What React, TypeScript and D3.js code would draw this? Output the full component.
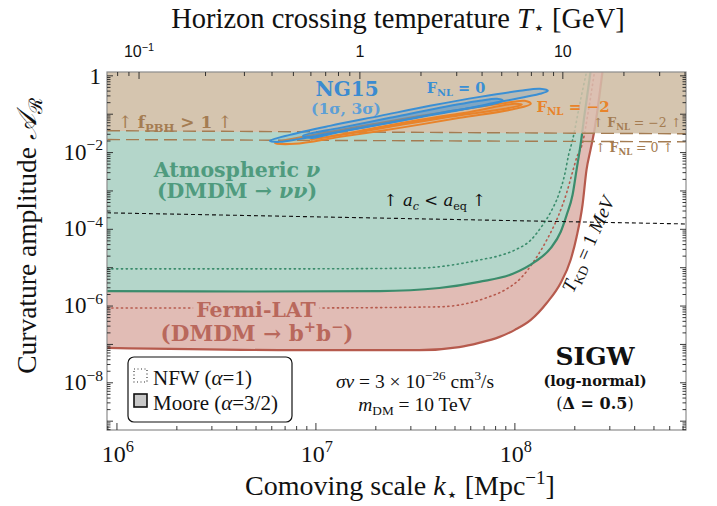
import { useEffect, useRef } from 'react';
import * as d3 from 'd3';

const W = 717;
const H = 506;

// axis limits, log10
const kLim = [5.95, 8.86];
const aLim = [-9.23, 0.1];

// top axis: temperature ticks [GeV] and their comoving scale (log10 k)
const tempMajor = [0.1, 1, 10];
const tempMajorLogK = [6.111, 7.221, 8.241];
const tempLabels = ['10^-1', '1', '10'];
const tempMinor = [0.08, 0.09, 0.2, 0.3, 0.4, 0.5, 0.6, 0.7, 0.8, 0.9, 2, 3, 4, 5, 6, 7, 8, 9, 20, 30, 40];

const yLabelled = [0, -2, -4, -6, -8];
const kLabelled = [6, 7, 8];

// Atmospheric nu (DMDM -> nu nu), Moore profile (solid) / NFW (dotted)
const atmoMooreLogK = [5.95, 6.67, 7.32, 7.62, 7.82, 7.99, 8.1, 8.18, 8.23, 8.26, 8.29, 8.31, 8.33, 8.35, 8.38];
const atmoMooreLogA = [-5.61, -5.62, -5.61, -5.53, -5.37, -5.16, -4.85, -4.49, -4.07, -3.63, -3.1, -2.45, -1.8, -1.02, 0.1];
const atmoNfwLogK = [5.95, 6.92, 7.52, 7.72, 7.82, 7.92, 8.0, 8.08, 8.13, 8.18, 8.22, 8.25, 8.27, 8.29, 8.33, 8.36];
const atmoNfwLogA = [-5.03, -5.03, -5.01, -4.9, -4.8, -4.69, -4.54, -4.28, -3.96, -3.55, -3.1, -2.58, -2.06, -1.67, -0.63, 0.1];

// Fermi-LAT (DMDM -> b+ b-)
const fermiMooreLogK = [5.95, 6.92, 7.52, 7.72, 7.82, 7.92, 8.0, 8.08, 8.16, 8.23, 8.28, 8.31, 8.34, 8.36, 8.38, 8.4, 8.44];
const fermiMooreLogA = [-7.09, -7.15, -7.15, -7.07, -6.96, -6.81, -6.62, -6.36, -5.92, -5.4, -4.8, -4.2, -3.36, -2.45, -1.93, -1.41, 0.1];
const fermiNfwLogK = [5.95, 6.92, 7.62, 7.77, 7.87, 7.95, 8.03, 8.1, 8.16, 8.22, 8.26, 8.29, 8.31, 8.34, 8.37, 8.4];
const fermiNfwLogA = [-6.05, -6.05, -6.02, -5.92, -5.76, -5.58, -5.27, -4.8, -4.28, -3.63, -3.05, -2.5, -2.14, -1.75, -0.89, 0.1];

// f_PBH = 1 thresholds
const pbhLogK = [5.95, 8.86];
const pbhFnlM2LogA = [-1.43, -1.51];
const pbhFnl0LogA = [-1.66, -1.72];

// a_c = a_eq
const acLogK = [5.95, 8.86];
const acLogA = [-3.57, -3.86];

// NG15 posterior contours (log10 k, log10 A)
const ngBlue3: [number, number][] = [
  [6.769, -1.695], [6.869, -1.538], [7.07, -1.304], [7.322, -1.043], [7.573, -0.782], [7.824, -0.548],
  [8.025, -0.391], [8.126, -0.339], [8.166, -0.391], [8.126, -0.469], [7.925, -0.678], [7.673, -0.939],
  [7.422, -1.173], [7.171, -1.408], [6.92, -1.643], [6.819, -1.721],
];
const ngBlue1: [number, number][] = [
  [6.935, -1.565], [7.121, -1.356], [7.372, -1.095], [7.623, -0.834], [7.824, -0.652], [7.91, -0.6],
  [7.94, -0.652], [7.874, -0.756], [7.623, -0.965], [7.372, -1.226], [7.121, -1.46], [6.98, -1.617],
];
const ngOrange3: [number, number][] = [
  [6.794, -1.747], [7.02, -1.512], [7.322, -1.226], [7.623, -0.965], [7.925, -0.73], [8.05, -0.652],
  [8.08, -0.73], [8.0, -0.86], [7.724, -1.095], [7.422, -1.356], [7.121, -1.591], [6.894, -1.773],
];
const ngOrange1: [number, number][] = [
  [6.97, -1.669], [7.221, -1.434], [7.523, -1.147], [7.774, -0.939], [8.0, -0.73], [8.035, -0.756],
  [7.95, -0.86], [7.673, -1.069], [7.372, -1.33], [7.07, -1.591],
];

const SERIF = "'Liberation Serif', 'DejaVu Serif', serif";
const BOLD = "'DejaVu Serif', 'Liberation Serif', serif";
const SANS = "'Liberation Sans', Arial, sans-serif";

const C = {
  brown: '#d5c5af',
  brownText: '#a47c52',
  green: '#b4d6ca',
  greenLine: '#3b8c6c',
  greenText: '#4f9b7e',
  pink: '#e1bcb5',
  redLine: '#b65a4d',
  redText: '#b9685c',
  blue: '#3a8fd4',
  blueText: '#3b8bd0',
  orange: '#e8832a',
};

type Part = { t: string; sup?: boolean; sub?: boolean; i?: boolean; b?: boolean };

function rich(g: any, x: number, y: number, parts: Part[], o: any) {
  const size = o.size;
  const t = g.append('text')
    .attr('x', x).attr('y', y)
    .attr('font-size', size)
    .attr('font-family', o.family || SERIF)
    .attr('fill', o.fill || '#111')
    .attr('text-anchor', o.anchor || 'middle');
  if (o.bold) t.attr('font-weight', 'bold');
  if (o.rotate) t.attr('transform', `rotate(${o.rotate},${x},${y})`);
  let shift = 0;
  parts.forEach(p => {
    const target = p.sup ? -size * 0.4 : p.sub ? size * 0.22 : 0;
    const ts = t.append('tspan').text(p.t);
    if (target - shift !== 0) ts.attr('dy', target - shift);
    shift = target;
    if (p.sup || p.sub) ts.attr('font-size', size * 0.68);
    if (p.i) ts.attr('font-style', 'italic');
    if (p.b !== undefined) ts.attr('font-weight', p.b ? 'bold' : 'normal');
  });
  return t;
}

const App = () => {
  const svgRef = useRef(null);

  useEffect(() => {
    const svg = d3.select(svgRef.current);
    svg.selectAll('*').remove();

    const L = 107, R = 686, T = 72, B = 430;
    const x = d3.scaleLog().domain([10 ** kLim[0], 10 ** kLim[1]]).range([L, R]);
    const y = d3.scaleLog().domain([10 ** aLim[0], 10 ** aLim[1]]).range([B, T]);
    const tScale = d3.scaleLog().domain(tempMajor).range(tempMajorLogK.map(v => x(10 ** v)));

    const zip = (ks: number[], as: number[]) => ks.map((k, i) => [k, as[i]] as [number, number]);
    const line = d3.line<[number, number]>()
      .x(d => x(10 ** d[0])).y(d => y(10 ** d[1])).curve(d3.curveMonotoneX);
    const straight = d3.line<[number, number]>().x(p => x(10 ** p[0])).y(p => y(10 ** p[1]));
    const areaAbove = d3.area<[number, number]>()
      .x(d => x(10 ** d[0])).y0(T - 2).y1(d => y(10 ** d[1])).curve(d3.curveMonotoneX);

    const fermiM = zip(fermiMooreLogK, fermiMooreLogA);
    const fermiN = zip(fermiNfwLogK, fermiNfwLogA);
    const atmoM = zip(atmoMooreLogK, atmoMooreLogA);
    const atmoN = zip(atmoNfwLogK, atmoNfwLogA);
    const pbhM2 = zip(pbhLogK, pbhFnlM2LogA);
    const pbh0 = zip(pbhLogK, pbhFnl0LogA);

    const defs = svg.append('defs');
    defs.append('clipPath').attr('id', 'plot-clip')
      .append('rect').attr('x', L).attr('y', T).attr('width', R - L).attr('height', B - T);
    defs.append('clipPath').attr('id', 'pbh-clip')
      .append('path').attr('d', areaAbove(pbhM2));

    const plot = svg.append('g').attr('clip-path', 'url(#plot-clip)');

    const drawCurves = (g: any, op: number) => {
      g.append('path').attr('d', line(fermiN)).attr('fill', 'none').attr('stroke-opacity', op)
        .attr('stroke', C.redLine).attr('stroke-width', 1.6).attr('stroke-dasharray', '1.2,3.6').attr('stroke-linecap', 'round');
      g.append('path').attr('d', line(atmoN)).attr('fill', 'none').attr('stroke-opacity', op)
        .attr('stroke', C.greenLine).attr('stroke-width', 1.6).attr('stroke-dasharray', '1.2,3.6').attr('stroke-linecap', 'round');
      g.append('path').attr('d', line(fermiM)).attr('fill', 'none').attr('stroke-opacity', op)
        .attr('stroke', C.redLine).attr('stroke-width', 2.2);
      g.append('path').attr('d', line(atmoM)).attr('fill', 'none').attr('stroke-opacity', op)
        .attr('stroke', C.greenLine).attr('stroke-width', 2.2);
    };

    // excluded regions
    plot.append('path').attr('d', areaAbove(fermiM)).attr('fill', C.pink);
    plot.append('path').attr('d', areaAbove(atmoM)).attr('fill', C.green);
    drawCurves(plot, 1);

    // PBH overproduction (covers the indirect-detection regions, which show through faintly)
    plot.append('path').attr('d', areaAbove(pbhM2)).attr('fill', C.brown);
    const under = plot.append('g').attr('clip-path', 'url(#pbh-clip)');
    under.append('path').attr('d', areaAbove(fermiM)).attr('fill', C.pink).attr('fill-opacity', 0.55);
    under.append('path').attr('d', areaAbove(atmoM)).attr('fill', C.brown);
    drawCurves(under, 0.18);

    [pbhM2, pbh0].forEach(d => {
      plot.append('path').attr('d', straight(d))
        .attr('fill', 'none').attr('stroke', C.brownText).attr('stroke-width', 1.4).attr('stroke-dasharray', '13,6');
    });

    // a_c < a_eq
    plot.append('path').attr('d', straight(zip(acLogK, acLogA)))
      .attr('fill', 'none').attr('stroke', '#111').attr('stroke-width', 1.1).attr('stroke-dasharray', '4,3');

    // NG15 contours
    const closed = d3.line<[number, number]>()
      .x(d => x(10 ** d[0])).y(d => y(10 ** d[1])).curve(d3.curveCatmullRomClosed.alpha(0.5));
    const contour = (d: [number, number][], col: string, op: number) =>
      plot.append('path').attr('d', closed(d)).attr('fill', col).attr('fill-opacity', op)
        .attr('stroke', col).attr('stroke-width', 2);
    contour(ngOrange3, C.orange, 0.15);
    contour(ngOrange1, C.orange, 0.35);
    contour(ngBlue3, C.blue, 0.2);
    contour(ngBlue1, C.blue, 0.45);

    // annotations
    rich(svg, 347, 96, [{ t: 'NG15' }], { size: 20, bold: true, family: BOLD, fill: C.blueText });
    rich(svg, 346, 114, [{ t: '(1σ, 3σ)' }], { size: 15.5, bold: true, family: BOLD, fill: '#5d9fd6' });
    rich(svg, 456, 93, [{ t: 'F' }, { t: 'NL', sub: true }, { t: ' = 0' }], { size: 14.5, bold: true, family: BOLD, fill: C.blue });
    rich(svg, 573, 112, [{ t: 'F' }, { t: 'NL', sub: true }, { t: ' = −2' }], { size: 15, bold: true, family: BOLD, fill: C.orange });
    rich(svg, 637, 127, [{ t: '↑ ', b: false }, { t: 'F' }, { t: 'NL', sub: true }, { t: ' = −2 ↑', b: false }], { size: 12.5, bold: true, family: BOLD, fill: C.brownText });
    rich(svg, 634, 152, [{ t: '↑ ', b: false }, { t: 'F' }, { t: 'NL', sub: true }, { t: ' = 0 ↑', b: false }], { size: 12.5, bold: true, family: BOLD, fill: C.brownText });
    rich(svg, 175, 128, [{ t: '↑ ', b: false }, { t: 'f' }, { t: 'PBH', sub: true }, { t: ' > 1' }, { t: ' ↑', b: false }], { size: 17, bold: true, family: BOLD, fill: C.brownText });

    rich(svg, 237, 177, [{ t: 'Atmospheric ' }, { t: 'ν', i: true }], { size: 20.5, bold: true, family: BOLD, fill: C.greenText });
    rich(svg, 237, 198, [{ t: '(DMDM → ' }, { t: 'νν', i: true }, { t: ')' }], { size: 20.5, bold: true, family: BOLD, fill: C.greenText });

    rich(svg, 435, 206, [{ t: '↑ ' }, { t: 'a', i: true }, { t: 'c', sub: true, i: true }, { t: ' < ' }, { t: 'a', i: true }, { t: 'eq', sub: true }, { t: ' ↑' }], { size: 16.5, family: BOLD });

    const fermiLabel = rich(svg, 256, 317, [{ t: 'Fermi-LAT' }], { size: 20.5, bold: true, family: BOLD, fill: C.redText });
    const bb = fermiLabel.node().getBBox();
    svg.insert('rect', () => fermiLabel.node())
      .attr('x', bb.x - 3).attr('y', bb.y + 4).attr('width', bb.width + 6).attr('height', bb.height - 8)
      .attr('fill', C.pink);
    rich(svg, 257, 341, [{ t: '(DMDM → b' }, { t: '+', sup: true }, { t: 'b' }, { t: '−', sup: true }, { t: ')' }], { size: 21.5, bold: true, family: BOLD, fill: C.redText });

    rich(svg, 594, 247, [{ t: 'T', i: true }, { t: 'KD', sub: true }, { t: ' = 1 ' }, { t: 'MeV', i: true }], { size: 19.5, rotate: -66 });

    rich(svg, 415, 388, [{ t: 'σv', i: true }, { t: ' = 3 × 10' }, { t: '−26', sup: true }, { t: ' cm' }, { t: '3', sup: true }, { t: '/s' }], { size: 19.5 });
    rich(svg, 415, 411, [{ t: 'm', i: true }, { t: 'DM', sub: true }, { t: ' = 10 TeV' }], { size: 19.5 });

    rich(svg, 595, 365, [{ t: 'SIGW' }], { size: 25, bold: true, family: BOLD });
    rich(svg, 595, 386, [{ t: '(log-normal)' }], { size: 14.5, bold: true, family: BOLD });
    rich(svg, 595, 409, [{ t: '(', b: false }, { t: 'Δ = 0.5' }, { t: ')', b: false }], { size: 16, bold: true, family: BOLD });

    // legend
    const lg = svg.append('g');
    lg.append('rect').attr('x', 128).attr('y', 357).attr('width', 164).attr('height', 65)
      .attr('rx', 6).attr('fill', 'white').attr('stroke', '#111').attr('stroke-width', 1.2);
    lg.append('rect').attr('x', 134).attr('y', 369).attr('width', 13).attr('height', 13)
      .attr('fill', 'none').attr('stroke', '#333').attr('stroke-width', 1.2).attr('stroke-dasharray', '1,2.5');
    lg.append('rect').attr('x', 134).attr('y', 394).attr('width', 13).attr('height', 13)
      .attr('fill', '#c8c8c8').attr('stroke', '#111').attr('stroke-width', 1.6);
    rich(lg, 153, 385, [{ t: 'NFW (' }, { t: 'α', i: true }, { t: '=1)' }], { size: 21, anchor: 'start' });
    rich(lg, 153, 410, [{ t: 'Moore (' }, { t: 'α', i: true }, { t: '=3/2)' }], { size: 21, anchor: 'start' });

    // axes frame
    svg.append('rect').attr('x', L).attr('y', T).attr('width', R - L).attr('height', B - T)
      .attr('fill', 'none').attr('stroke', '#8c8c8c').attr('stroke-width', 1.2);

    const ticks = svg.append('g').attr('stroke', '#222').attr('stroke-width', 0.9);
    // y ticks, both sides
    for (let e = -10; e <= 0; e++) {
      for (let m = 1; m < 10; m++) {
        const v = m * 10 ** e;
        if (v < 10 ** aLim[0] || v > 10 ** aLim[1]) continue;
        const yy = y(v);
        const len = m === 1 ? 6 : 3.5;
        ticks.append('line').attr('x1', L).attr('x2', L + len).attr('y1', yy).attr('y2', yy);
        ticks.append('line').attr('x1', R).attr('x2', R - len).attr('y1', yy).attr('y2', yy);
      }
    }
    // k ticks (bottom)
    for (let e = 5; e <= 8; e++) {
      for (let m = 1; m < 10; m++) {
        const v = m * 10 ** e;
        if (v < 10 ** kLim[0] || v > 10 ** kLim[1]) continue;
        const xx = x(v);
        const len = m === 1 ? 7 : 4;
        ticks.append('line').attr('x1', xx).attr('x2', xx).attr('y1', B).attr('y2', B - len);
      }
    }
    // temperature ticks (top)
    tempMajor.forEach(v => {
      ticks.append('line').attr('x1', tScale(v)).attr('x2', tScale(v)).attr('y1', T).attr('y2', T + 7);
    });
    tempMinor.forEach(v => {
      const xx = tScale(v);
      if (xx < L || xx > R) return;
      ticks.append('line').attr('x1', xx).attr('x2', xx).attr('y1', T).attr('y2', T + 4);
    });

    // tick labels
    yLabelled.forEach(e => {
      const yy = y(10 ** e) + 7;
      if (e === 0) rich(svg, 101, yy + 1, [{ t: '1' }], { size: 23, anchor: 'end' });
      else rich(svg, 103, yy, [{ t: '10' }, { t: '−' + (-e), sup: true }], { size: 23, anchor: 'end' });
    });
    kLabelled.forEach(e => {
      rich(svg, x(10 ** e) + 1, 462, [{ t: '10' }, { t: String(e), sup: true }], { size: 24 });
    });
    tempMajor.forEach((v, i) => {
      const lab = tempLabels[i];
      if (lab.includes('^')) {
        const [b, p] = lab.split('^');
        rich(svg, tScale(v), 57, [{ t: b }, { t: p.replace('-', '−'), sup: true }], { size: 16, family: SANS });
      } else {
        rich(svg, tScale(v), 57, [{ t: lab }], { size: 16, family: SANS });
      }
    });

    // axis titles
    rich(svg, 398, 28, [{ t: 'Horizon crossing temperature ' }, { t: 'T', i: true }, { t: '⋆', sub: true }, { t: ' [GeV]' }], { size: 28.5 });
    rich(svg, 400, 495, [{ t: 'Comoving scale ' }, { t: 'k', i: true }, { t: '⋆', sub: true }, { t: ' [Mpc' }, { t: '−1', sup: true }, { t: ']' }], { size: 28 });
    rich(svg, 36, 236, [{ t: 'Curvature amplitude ' }, { t: '𝒜', i: true }, { t: 'ℛ', sub: true }], { size: 27.5, rotate: -90 });
  }, []);

  return (
    <svg ref={svgRef} width={W} height={H} style={{ position: 'absolute', left: 0, top: 0, background: 'white' }} />
  );
};

export default App;
